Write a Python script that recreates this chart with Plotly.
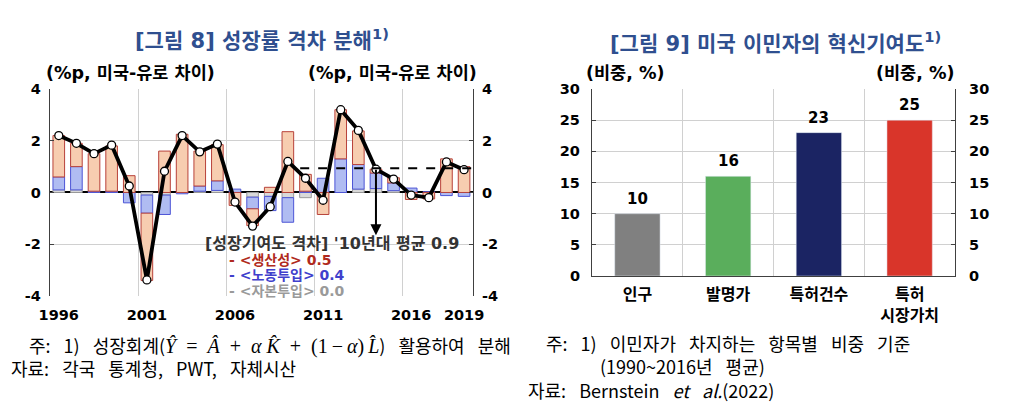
import plotly.graph_objects as go

# ---- figure 8: growth-gap decomposition (US minus euro area, %p) ----
years = list(range(1996, 2020))
productivity = [1.6, 0.9, 1.45, 1.75, 0.65, -2.6, 1.6, 2.25, 1.35, 1.4, -0.5, -0.65,
                0.2, 2.35, 0.65, -0.85, 1.9, 1.3, 0.15, 0.2, -0.27, -0.25, 1.3, 1.0]
labor = [0.5, 0.9, 0.05, 0.05, -0.4, -0.7, -0.75, -0.05, 0.2, 0.37, 0.13, -0.45,
         -0.55, -0.95, 0.05, 0.55, 1.3, 0.95, 0.6, 0.3, 0.17, 0.03, -0.12, -0.15]
capital = [0.1, 0.1, 0.0, 0.0, 0.0, -0.1, -0.1, 0.0, 0.05, 0.08, 0.0, -0.18,
           -0.15, -0.2, -0.2, 0.0, 0.0, 0.13, 0.15, 0.07, 0.0, 0.0, 0.0, 0.0]
growth_gap = [2.2, 1.9, 1.5, 1.83, 0.25, -3.38, 0.82, 2.2, 1.57, 1.87, -0.37, -1.3,
              -0.55, 1.2, 0.55, -0.3, 3.2, 2.4, 0.9, 0.52, -0.1, -0.2, 1.18, 0.88]
decade_avg = 0.94
decade_span = [2009.7, 2019.5]
arrow_year, arrow_tip = 2014, -1.65
year_ticks = [1996, 2001, 2006, 2011, 2016, 2019]
year_grid = [2000.5, 2005.5, 2010.5, 2015.5]
gap_ticks = [-4, -2, 0, 2, 4]
gap_ticktext = ["-4", "-2", "0", "2", "4"]

# ---- figure 9: immigrants' share in US innovation (%) ----
categories = ["인구", "발명가", "특허건수", "특허<br>시장가치"]
shares = [10, 16, 23, 25]
share_colors = ["#808080", "#5aae5c", "#1b2463", "#d9352a"]
share_ticks = [0, 5, 10, 15, 20, 25, 30]

FONT = "Noto Sans CJK KR"
MIXED = "DejaVu Sans, Noto Sans CJK KR"
TICK = dict(family=MIXED, size=14.5, color="black", weight="bold")
LABEL = dict(family=MIXED, size=17.5, color="black", weight="bold")
GRID = "#d0d0d0"
AXIS = "#404040"
SP = "\u2002 "     # the notes use wide word gaps


def wide(s):
    return s.replace(" ", SP)


fig = go.Figure()

# stacked contributions (capital at the base, then labor, then productivity)
fig.add_trace(go.Bar(x=years, y=capital, width=0.66, marker=dict(color="#d9d9d9", line=dict(color="#9a9a9a", width=1)),
                     xaxis="x", yaxis="y", showlegend=False, name="자본투입"))
fig.add_trace(go.Bar(x=years, y=labor, width=0.66, marker=dict(color="#b0bcf2", line=dict(color="#4d55d6", width=1)),
                     xaxis="x", yaxis="y", showlegend=False, name="노동투입"))
fig.add_trace(go.Bar(x=years, y=productivity, width=0.66, marker=dict(color="#f7cdb0", line=dict(color="#b8423a", width=1)),
                     xaxis="x", yaxis="y", showlegend=False, name="생산성"))
fig.add_trace(go.Scatter(x=decade_span, y=[decade_avg, decade_avg], mode="lines",
                         line=dict(color="black", width=2, dash="dash"),
                         xaxis="x", yaxis="y3", showlegend=False, hoverinfo="skip"))
fig.add_trace(go.Scatter(x=years, y=growth_gap, mode="lines+markers",
                         line=dict(color="black", width=3.8),
                         marker=dict(size=8, color="white", line=dict(color="black", width=1.3)),
                         xaxis="x", yaxis="y", showlegend=False, name="성장률 격차"))

fig.add_trace(go.Bar(x=categories, y=shares, width=0.5, marker=dict(color=share_colors),
                     xaxis="x2", yaxis="y2", showlegend=False))
fig.add_trace(go.Scatter(x=categories, y=shares, mode="markers", marker=dict(opacity=0),
                         xaxis="x2", yaxis="y4", showlegend=False, hoverinfo="skip"))

yax = dict(showgrid=True, gridcolor=GRID, gridwidth=1, showline=True, linecolor=AXIS, linewidth=1.3,
           ticks="inside", ticklen=4, tickcolor=AXIS, tickfont=TICK, zeroline=False,
           automargin=False, ticklabelstandoff=5)

fig.update_layout(
    width=1028, height=412, margin=dict(l=0, r=0, t=0, b=0, autoexpand=False),
    paper_bgcolor="white", plot_bgcolor="white", barmode="relative",
    font=dict(family=FONT, color="black"),
    xaxis=dict(domain=[0.0486, 0.460], anchor="y", range=[1995.5, 2019.5], tickvals=year_ticks,
               showgrid=False, showline=False, zeroline=False, ticks="", tickfont=TICK,
               automargin=False, ticklabelstandoff=9,
               minor=dict(tickvals=year_grid, showgrid=True, gridcolor=GRID, ticks="")),
    yaxis=dict(yax, domain=[0.2816, 0.784], anchor="x", range=[-4, 4], tickvals=gap_ticks,
               ticktext=gap_ticktext, zeroline=True, zerolinecolor="black", zerolinewidth=2),
    yaxis3=dict(yax, overlaying="y", side="right", anchor="x", matches="y", showgrid=False,
                tickvals=gap_ticks, ticktext=gap_ticktext),
    xaxis2=dict(domain=[0.5759, 0.929], anchor="y2", type="category", tickson="boundaries",
                showgrid=True, gridcolor=GRID, showline=True, linecolor=AXIS, linewidth=1.3,
                ticks="", tickfont=dict(TICK, size=16), automargin=False, ticklabelstandoff=4),
    yaxis2=dict(yax, domain=[0.330, 0.784], anchor="x2", range=[0, 30], tickvals=share_ticks,
                ticklabelstandoff=8),
    yaxis4=dict(yax, overlaying="y2", side="right", anchor="x2", matches="y2", showgrid=False,
                tickvals=share_ticks, ticklabelstandoff=10),
)

TITLE_BLUE = "#2f4f8f"
notes = dict(family=FONT, size=18, color="black")
formula = ("<span style='font-family:Liberation Serif;font-size:20px'><i>Ŷ</i>\u2002=\u2002<i>Â</i>\u2002+\u2002"
           "<i>α K̂</i>\u2002+\u2002(1\u2009−\u2009<i>α</i>)\u2009<i>L̂</i></span>")
left_notes = ("\u2002\u2002" + wide("주: 1) 성장회계(") + formula + ")" + SP + wide("활용하여 분해")
              + "<br>" + wide("자료: 각국 통계청, PWT, 자체시산"))
right_notes = ("\u2002\u2002" + wide("주: 1) 이민자가 차지하는 항목별 비중 기준")
               + "<br>" + "\u3000" * 4 + wide("(1990~2016년 평균)")
               + "<br>" + wide("자료: Bernstein") + SP + "<i>et" + SP + "al.</i>(2022)")

ann = [
    dict(text="[그림 8] 성장률 격차 분해<sup>1)</sup>", x=0.255, y=0.905, xanchor="center",
         font=dict(family=MIXED, size=21, color=TITLE_BLUE, weight="bold")),
    dict(text="[그림 9] 미국 이민자의 혁신기여도<sup>1)</sup>", x=0.754, y=0.897, xanchor="center",
         font=dict(family=MIXED, size=21, color=TITLE_BLUE, weight="bold")),
    dict(text="(%p, 미국-유로 차이)", x=0.043, y=0.823, xanchor="left", font=LABEL),
    dict(text="(%p, 미국-유로 차이)", x=0.466, y=0.823, xanchor="right", font=LABEL),
    dict(text="(비중, %)", x=0.568, y=0.823, xanchor="left", font=LABEL),
    dict(text="(비중, %)", x=0.930, y=0.823, xanchor="right", font=LABEL),
    dict(text="[성장기여도 격차] '10년대 평균 %.1f" % 0.9, x=0.197, y=0.41, xanchor="left",
         font=dict(family=MIXED, size=16, color="#333333", weight="bold")),
    dict(text="- &lt;생산성&gt; 0.5", x=0.221, y=0.369, xanchor="left",
         font=dict(family=MIXED, size=14, color="#b02a20", weight="bold")),
    dict(text="- &lt;노동투입&gt; 0.4", x=0.221, y=0.332, xanchor="left",
         font=dict(family=MIXED, size=14, color="#4040cc", weight="bold")),
    dict(text="- &lt;자본투입&gt; 0.0", x=0.221, y=0.294, xanchor="left",
         font=dict(family=MIXED, size=14, color="#9a9a9a", weight="bold")),
    dict(text=left_notes, x=0.009, y=0.200, xanchor="left", yanchor="top", align="left", font=notes),
    dict(text=right_notes, x=0.512, y=0.205, xanchor="left", yanchor="top", align="left", font=notes),
]
for a in ann:
    a.setdefault("yanchor", "middle")
    a.update(xref="paper", yref="paper", showarrow=False)
    fig.add_annotation(**a)

# arrow from the 2010s average line down to the label
fig.add_annotation(x=arrow_year, y=arrow_tip, ax=arrow_year, ay=decade_avg, xref="x", yref="y",
                   axref="x", ayref="y", showarrow=True, arrowhead=2, arrowsize=1.1, arrowwidth=2,
                   arrowcolor="black", text="")

# value labels over the share bars
for c, v in zip(categories, shares):
    fig.add_annotation(x=c, y=v, xref="x2", yref="y2", text=str(v), showarrow=False, yshift=15,
                       font=dict(TICK, size=15))

# drop the browser's default page margin so the 1028x412 figure sits at the corner
fig.write_html("out.html", config={"displayModeBar": False},
               post_script="document.body.style.margin='0px';")
